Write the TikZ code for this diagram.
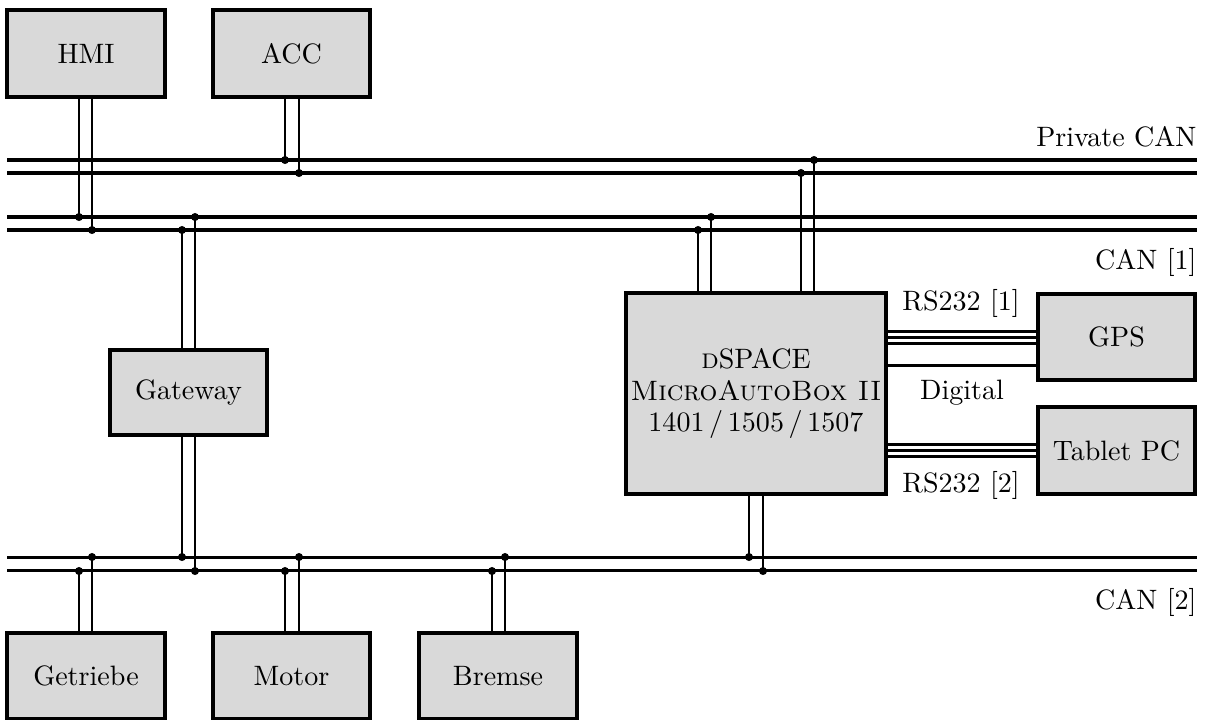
\documentclass[tikz,border=0pt]{standalone}
\usetikzlibrary{calc}
\begin{document}
\begin{tikzpicture}[x=0.385pt,y=-0.385pt,
  box/.style={draw=black,fill=black!15,line width=1.25pt,inner sep=0pt,font=\fontsize{10.8}{12}\selectfont,align=center},
  bus/.style={line width=1.3pt,double=white,double distance=3.7pt},
  wire/.style={line width=1.05pt},
  serial/.style={line width=1.15pt},
  dot/.style={circle,fill=black,inner sep=0pt,minimum size=3.1pt},
  lbl/.style={inner sep=0pt,font=\fontsize{10.8}{12}\selectfont}]
\useasboundingbox (0,0) rectangle (1206,719);
% boxes
\node[box,minimum width=158*0.385pt,minimum height=87*0.385pt] (HMI) at (86,53.5) {HMI};
\node[box,minimum width=157*0.385pt,minimum height=87*0.385pt] (ACC) at (291.5,53.5) {ACC};
\node[box,minimum width=157*0.385pt,minimum height=85*0.385pt] (GW) at (188.5,392.5) {Gateway};
\node[box,minimum width=158*0.385pt,minimum height=86*0.385pt] (GT) at (86,676) {Getriebe};
\node[box,minimum width=157*0.385pt,minimum height=86*0.385pt] (MO) at (291.5,676) {Motor};
\node[box,minimum width=158*0.385pt,minimum height=86*0.385pt] (BR) at (498,676) {Bremse};
\node[box,minimum width=260*0.385pt,minimum height=201*0.385pt] (DS) at (756,393.5) {\textsc{d}SPACE\\\textsc{MicroAutoBox II}\\1401\,/\,1505\,/\,1507};
\node[box,minimum width=157*0.385pt,minimum height=86*0.385pt] (GPS) at (1116.5,337) {GPS};
\node[box,minimum width=157*0.385pt,minimum height=87*0.385pt] (TAB) at (1116.5,450.5) {Tablet PC};
% buses
\coordinate (pcA) at (7,166.5);
\coordinate (pcB) at (1197,166.5);
\coordinate (c1A) at (7,223.5);
\coordinate (c1B) at (1197,223.5);
\coordinate (c2A) at (7,564);
\coordinate (c2B) at (1197,564);
\draw[bus] (pcA) -- (pcB);
\draw[bus] (c1A) -- (c1B);
\draw[bus] (c2A) -- (c2B);
% bus labels
\node[lbl,anchor=east] (lpc) at (1197,137) {Private CAN};
\node[lbl,anchor=east] (lc1) at (1197,262) {CAN [1]};
\node[lbl,anchor=east] (lc2) at (1197,602) {CAN [2]};
% HMI
\draw[wire] (HMI.south -| 79,0) -- (79,217) node[dot]{};
\draw[wire] (HMI.south -| 92,0) -- (92,230) node[dot]{};
% ACC
\draw[wire] (ACC.south -| 285,0) -- (285,160) node[dot]{};
\draw[wire] (ACC.south -| 299,0) -- (299,173) node[dot]{};
% Gateway
\draw[wire] (GW.north -| 195,0) -- (195,217) node[dot]{};
\draw[wire] (GW.north -| 182,0) -- (182,230) node[dot]{};
\draw[wire] (GW.south -| 182,0) -- (182,557) node[dot]{};
\draw[wire] (GW.south -| 195,0) -- (195,571) node[dot]{};
% dSPACE
\draw[wire] (DS.north -| 698,0) -- (698,230) node[dot]{};
\draw[wire] (DS.north -| 711,0) -- (711,217) node[dot]{};
\draw[wire] (DS.north -| 801,0) -- (801,173) node[dot]{};
\draw[wire] (DS.north -| 814,0) -- (814,160) node[dot]{};
\draw[wire] (DS.south -| 749,0) -- (749,557) node[dot]{};
\draw[wire] (DS.south -| 763,0) -- (763,571) node[dot]{};
% bottom ECUs
\draw[wire] (GT.north -| 92,0) -- (92,557) node[dot]{};
\draw[wire] (GT.north -| 79,0) -- (79,571) node[dot]{};
\draw[wire] (MO.north -| 299,0) -- (299,557) node[dot]{};
\draw[wire] (MO.north -| 285,0) -- (285,571) node[dot]{};
\draw[wire] (BR.north -| 505,0) -- (505,557) node[dot]{};
\draw[wire] (BR.north -| 492,0) -- (492,571) node[dot]{};
% serial links
\foreach \yy in {331,337,343.5,365}
  \draw[serial] (DS.east |- 0,\yy) -- (GPS.west |- 0,\yy);
\foreach \yy in {444,450.3,456.5}
  \draw[serial] (DS.east |- 0,\yy) -- (TAB.west |- 0,\yy);
\node[lbl] (lrs1) at (961,303) {RS232 [1]};
\node[lbl] (ldig) at (962,393) {Digital};
\node[lbl] (lrs2) at (961,485) {RS232 [2]};
\end{tikzpicture}
\end{document}
